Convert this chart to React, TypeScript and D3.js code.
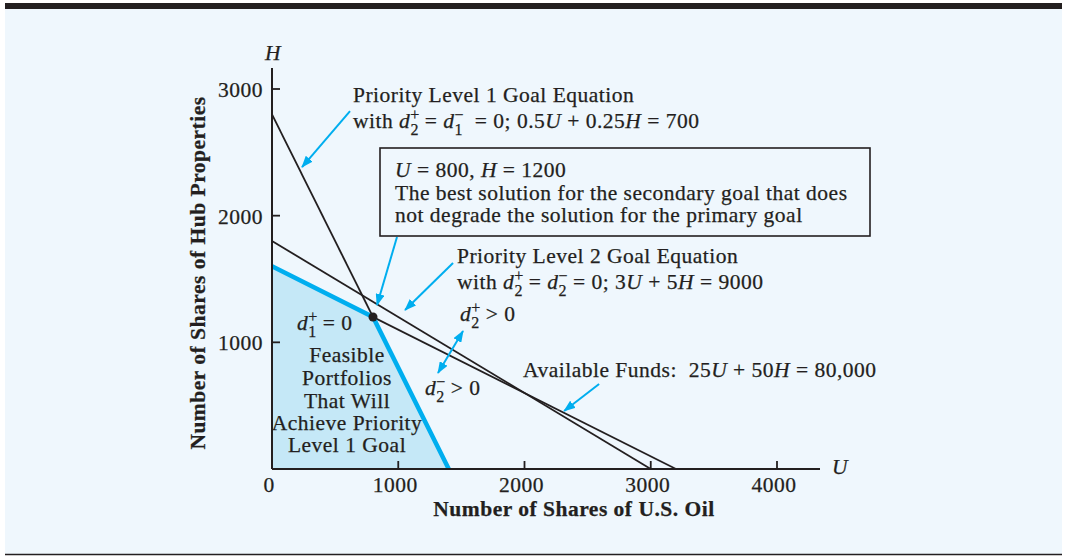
import * as d3 from 'd3'

// tick values
const X_TICKS = [0, 1000, 2000, 3000, 4000]
const Y_TICKS = [1000, 2000, 3000]

// goal / constraint lines given by their intercepts (U at H=0, H at U=0)
const P1_LINE = { u: 1400, h: 2800 } // 0.5U + 0.25H = 700
const P2_LINE = { u: 3000, h: 1800 } // 3U + 5H = 9000
const FUNDS_LINE = { u: 3200, h: 1600 } // 25U + 50H = 80,000

// feasible region for priority level 1
const FEASIBLE: [number, number][] = [[0, 0], [0, 1600], [800, 1200], [1400, 0]]
const FEASIBLE_EDGE: [number, number][] = [[0, 1600], [800, 1200], [1400, 0]]
const BEST: [number, number] = [800, 1200]

// annotation arrows in (U, H) units: [tail, head]
const ARROWS: [number, number][][] = [
  [[618, 2826], [238, 2384]],
  [[990, 1832], [832, 1295]],
  [[1434, 1626], [1054, 1255]],
  [[2591, 671], [2314, 458]],
]
const DOUBLE_ARROW: [number, number][] = [[1513, 1089], [1315, 758]]

const INK = '#231f20'
const BLUE = '#00aeef'
const BG = '#eff7fd'
const FILL = '#c5e8f7'
const FONT = '"Liberation Serif", "Times New Roman", serif'

type Part = string | { i: string } | { sup: string; sub: string }

// renders text parts: plain, italic, or d with stacked super/subscript
const Parts = ({ parts }: { parts: Part[] }) => {
  const out: any[] = []
  let back = 0
  parts.forEach((p, k) => {
    if (typeof p === 'string') {
      out.push(<tspan key={k} dy={back || undefined}>{p}</tspan>)
      back = 0
    } else if ('i' in p) {
      out.push(<tspan key={k} dy={back || undefined} fontStyle="italic">{p.i}</tspan>)
      back = 0
    } else {
      out.push(<tspan key={k + 'd'} dy={back || undefined} fontStyle="italic">d</tspan>)
      out.push(<tspan key={k + 'p'} fontSize={16} dy={-8}>{p.sup}</tspan>)
      out.push(<tspan key={k + 's'} fontSize={16} dx={-9.5} dy={15}>{p.sub}</tspan>)
      back = -7
    }
  })
  return <>{out}</>
}

const App = () => {
  const x = d3.scaleLinear().domain([0, 4000]).range([272, 777])
  const y = d3.scaleLinear().domain([0, 3000]).range([469, 89])
  const line = d3.line<[number, number]>().x(d => x(d[0])).y(d => y(d[1]))
  const seg = (l: { u: number; h: number }) => line([[0, l.h], [l.u, 0]]) as string

  return (
    <svg width={1066} height={556} style={{ position: 'absolute', left: 0, top: 0 }}
      fontFamily={FONT} fontSize={21.5} fill={INK} letterSpacing={0.5}>
      <defs>
        <marker id="ah" markerUnits="userSpaceOnUse" markerWidth={12} markerHeight={9}
          refX={11} refY={4.5} orient="auto-start-reverse">
          <path d="M0,0 L12,4.5 L0,9 z" fill={BLUE} />
        </marker>
      </defs>
      <rect x={5} y={3} width={1057} height={551} fill={BG} />
      <rect x={5} y={3} width={1057} height={6} fill={INK} />
      <line x1={5} x2={1062} y1={554.5} y2={554.5} stroke={INK} strokeWidth={1.5} />

      {/* feasible region */}
      <path d={line(FEASIBLE) + 'Z'} fill={FILL} />

      {/* goal lines */}
      {[P1_LINE, P2_LINE, FUNDS_LINE].map((l, i) => (
        <path key={i} d={seg(l)} stroke={INK} strokeWidth={1.8} fill="none" />
      ))}
      <path d={line(FEASIBLE_EDGE) as string} stroke={BLUE} strokeWidth={4.5} fill="none" />
      <circle cx={x(BEST[0])} cy={y(BEST[1])} r={4.5} fill={INK} />

      {/* axes */}
      <line x1={x(0)} x2={x(0)} y1={y(0)} y2={68} stroke={INK} strokeWidth={2} />
      <line x1={x(0)} x2={820} y1={y(0)} y2={y(0)} stroke={INK} strokeWidth={2} />
      <g stroke={INK} strokeWidth={0.25}>
        {X_TICKS.map(t => (
          <g key={t}>
            {t > 0 && <line x1={x(t)} x2={x(t)} y1={y(0)} y2={y(0) - 8} strokeWidth={1.8} />}
            <text x={x(t) - 3} y={y(0) + 23} textAnchor="middle">{t}</text>
          </g>
        ))}
        {Y_TICKS.map(t => (
          <g key={t}>
            <line x1={x(0)} x2={x(0) + 8} y1={y(t)} y2={y(t)} strokeWidth={1.8} />
            <text x={x(0) - 9} y={y(t) + 8} textAnchor="end">{t}</text>
          </g>
        ))}
        <text x={273} y={60} textAnchor="middle" fontStyle="italic">H</text>
        <text x={832} y={474} fontStyle="italic">U</text>
        <text x={574} y={516} textAnchor="middle" fontWeight="bold">Number of Shares of U.S. Oil</text>
        <text transform="translate(205,273) rotate(-90)" textAnchor="middle" fontWeight="bold">
          Number of Shares of Hub Properties
        </text>
      </g>

      {/* arrows */}
      {ARROWS.map((a, i) => (
        <path key={i} d={line(a as [number, number][]) as string} stroke={BLUE} strokeWidth={2}
          markerEnd="url(#ah)" fill="none" />
      ))}
      <path d={line(DOUBLE_ARROW) as string} stroke={BLUE} strokeWidth={2}
        markerStart="url(#ah)" markerEnd="url(#ah)" fill="none" />

      <rect x={380} y={148} width={490} height={88} fill={BG} stroke={INK} strokeWidth={1.6} />

      {/* annotations */}
      <g stroke={INK} strokeWidth={0.25}>
        <text x={353} y={102}>Priority Level 1 Goal Equation</text>
        <text x={353} y={128} xmlSpace="preserve">
          <Parts parts={['with ', { sup: '+', sub: '2' }, ' = ', { sup: '−', sub: '1' }, '  = 0; 0.5', { i: 'U' }, ' + 0.25', { i: 'H' }, ' = 700']} />
        </text>

        <text x={395} y={177}>
          <Parts parts={[{ i: 'U' }, ' = 800, ', { i: 'H' }, ' = 1200']} />
        </text>
        <text x={395} y={200}>The best solution for the secondary goal that does</text>
        <text x={395} y={222}>not degrade the solution for the primary goal</text>

        <text x={457} y={263}>Priority Level 2 Goal Equation</text>
        <text x={457} y={289}>
          <Parts parts={['with ', { sup: '+', sub: '2' }, ' = ', { sup: '−', sub: '2' }, ' = 0; 3', { i: 'U' }, ' + 5', { i: 'H' }, ' = 9000']} />
        </text>
        <text x={460} y={321}>
          <Parts parts={[{ sup: '+', sub: '2' }, ' > 0']} />
        </text>
        <text x={425} y={395}>
          <Parts parts={[{ sup: '−', sub: '2' }, ' > 0']} />
        </text>
        <text x={523} y={377} xmlSpace="preserve">
          <Parts parts={['Available Funds:  25', { i: 'U' }, ' + 50', { i: 'H' }, ' = 80,000']} />
        </text>

        <text x={297} y={330}>
          <Parts parts={[{ sup: '+', sub: '1' }, ' = 0']} />
        </text>
        <g textAnchor="middle">
          <text x={347} y={362}>Feasible</text>
          <text x={347} y={385}>Portfolios</text>
          <text x={347} y={408}>That Will</text>
          <text x={347} y={430}>Achieve Priority</text>
          <text x={347} y={452}>Level 1 Goal</text>
        </g>
      </g>
    </svg>
  )
}

export default App
